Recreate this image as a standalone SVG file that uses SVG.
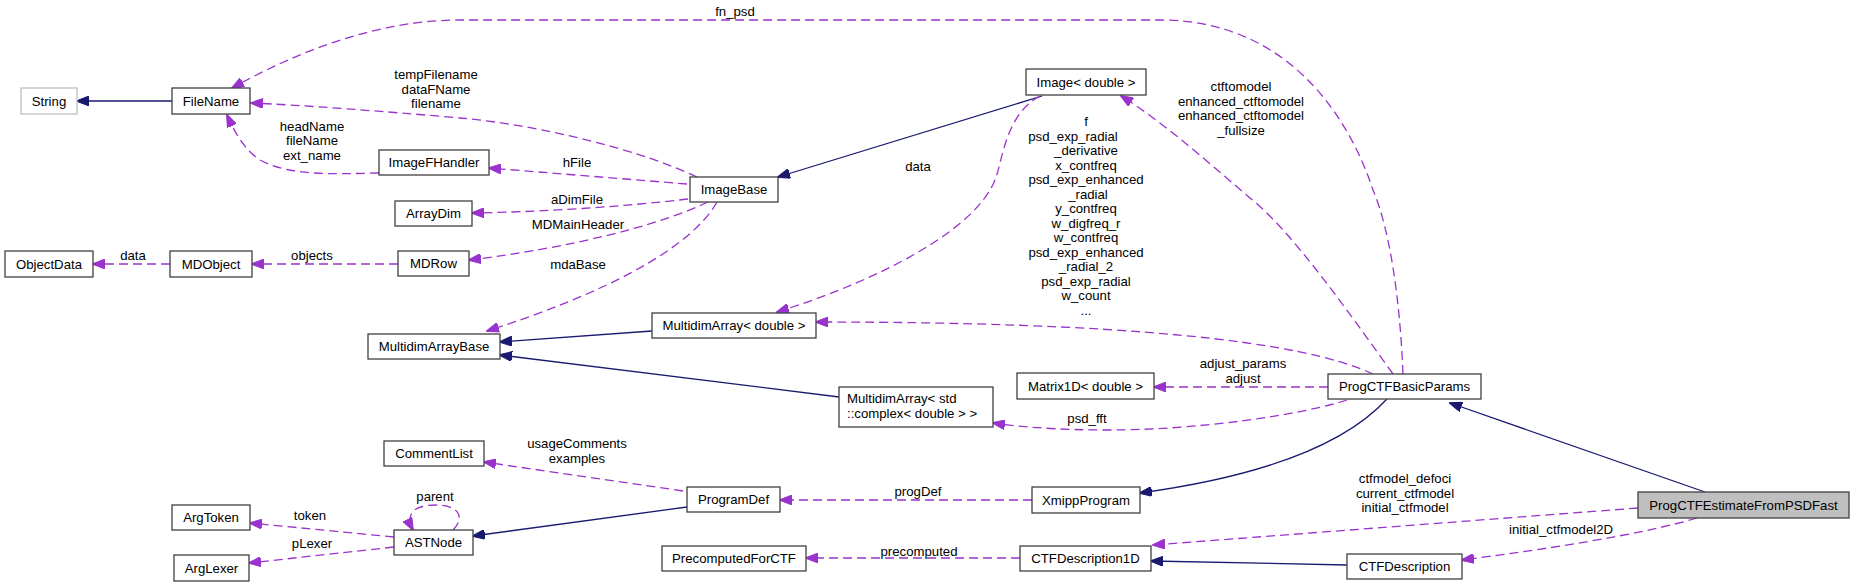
<svg xmlns="http://www.w3.org/2000/svg" width="1855" height="587" viewBox="0 0 1855 587">
<style>
text{font-family:"Liberation Sans",Arial,sans-serif;font-size:13.2px;fill:#000}
.n rect{fill:#fff;stroke:#404040;stroke-width:1.3}
.n text{text-anchor:middle}
.l text{text-anchor:middle}
.u{fill:none;stroke:#9a32cd;stroke-width:1.3;stroke-dasharray:9,5;marker-end:url(#pu)}
.b{fill:none;stroke:#191970;stroke-width:1.3;marker-end:url(#pb)}
</style>
<defs>
<marker id="pu" markerUnits="userSpaceOnUse" markerWidth="13" markerHeight="10" viewBox="0 0 13 10" refX="12" refY="5" orient="auto"><path d="M0,0 L13,5 L0,10 z" fill="#9a32cd" stroke="#9a32cd" stroke-width="1"/></marker>
<marker id="pb" markerUnits="userSpaceOnUse" markerWidth="13" markerHeight="10" viewBox="0 0 13 10" refX="12" refY="5" orient="auto"><path d="M0,0 L13,5 L0,10 z" fill="#191970" stroke="#191970" stroke-width="1"/></marker>
</defs>
<rect width="1855" height="587" fill="#fff"/>
<g id="edges">
<path class="b" d="M172,101 L77,101"/>
<path class="u" d="M1403,374 C1400,300 1390,230 1373,190 C1350,120 1290,20 1160,20 L460,20 C380,20 300,50 232,88"/>
<path class="u" d="M697,177 C640,150 540,125 460,118 C380,111 300,105 251,103"/>
<path class="u" d="M379,173 C330,174 290,176 260,160 C245,150 236,135 227,115"/>
<path class="u" d="M687,184 L489,168"/>
<path class="u" d="M688,199 C620,207 540,212 472,213"/>
<path class="u" d="M708,202 C660,225 570,248 469,260"/>
<path class="u" d="M717,202 C690,250 600,295 487,331"/>
<path class="b" d="M1042,96 L778,177"/>
<path class="u" d="M1040,96 C1005,115 1003,160 995,180 C975,230 880,280 777,312"/>
<path class="b" d="M652,331 L500,342"/>
<path class="b" d="M839,397 L500,355"/>
<path class="u" d="M1373,374 C1300,340 1120,322 816,322"/>
<path class="u" d="M1393,374 C1340,300 1290,230 1250,198 C1200,155 1160,120 1121,96"/>
<path class="u" d="M1328,387 L1154,387"/>
<path class="u" d="M1347,400 C1300,415 1200,430 1107,430 C1060,430 1020,427 993,423"/>
<path class="b" d="M1387,399 C1340,450 1250,478 1140,493"/>
<path class="u" d="M1032,500 L780,500"/>
<path class="u" d="M683,491 L484,462"/>
<path class="b" d="M687,507 L473,536"/>
<path class="u" d="M453,530 C465,518 460,505 435,505 C413,505 405,515 413,530"/>
<path class="u" d="M394,537 L250,523"/>
<path class="u" d="M394,547 L249,563"/>
<path class="u" d="M398,264 L252,264"/>
<path class="u" d="M170,264 L93,264"/>
<path class="u" d="M1020,558 L806,558"/>
<path class="b" d="M1347,565 L1151,561"/>
<path class="u" d="M1638,508 L1153,545"/>
<path class="u" d="M1697,518 C1640,535 1540,550 1462,560"/>
<path class="b" d="M1705,492 L1450,403"/>
</g>
<g id="edge-labels" class="l">
<text x="735" y="16">fn_psd</text>
<text x="436" y="79">tempFilename</text>
<text x="436" y="94">dataFName</text>
<text x="436" y="108">filename</text>
<text x="312" y="131">headName</text>
<text x="312" y="145">fileName</text>
<text x="312" y="160">ext_name</text>
<text x="577" y="167">hFile</text>
<text x="577" y="204">aDimFile</text>
<text x="578" y="229">MDMainHeader</text>
<text x="578" y="269">mdaBase</text>
<text x="918" y="171">data</text>
<text x="1086" y="126">f</text>
<text x="1073" y="140.5">psd_exp_radial</text>
<text x="1086" y="155">_derivative</text>
<text x="1086" y="169.5">x_contfreq</text>
<text x="1086" y="184">psd_exp_enhanced</text>
<text x="1088" y="198.5">_radial</text>
<text x="1086" y="213">y_contfreq</text>
<text x="1086" y="227.5">w_digfreq_r</text>
<text x="1086" y="242">w_contfreq</text>
<text x="1086" y="256.5">psd_exp_enhanced</text>
<text x="1086" y="271">_radial_2</text>
<text x="1086" y="285.5">psd_exp_radial</text>
<text x="1086" y="300">w_count</text>
<text x="1086" y="314.5">...</text>
<text x="1241" y="91">ctftomodel</text>
<text x="1241" y="105.5">enhanced_ctftomodel</text>
<text x="1241" y="120">enhanced_ctftomodel</text>
<text x="1241" y="134.5">_fullsize</text>
<text x="1243" y="368">adjust_params</text>
<text x="1243" y="382.5">adjust</text>
<text x="1087" y="423">psd_fft</text>
<text x="918" y="496">progDef</text>
<text x="577" y="448">usageComments</text>
<text x="577" y="463">examples</text>
<text x="435" y="501">parent</text>
<text x="310" y="520">token</text>
<text x="312" y="548">pLexer</text>
<text x="312" y="260">objects</text>
<text x="133" y="260">data</text>
<text x="919" y="556">precomputed</text>
<text x="1405" y="483">ctfmodel_defoci</text>
<text x="1405" y="497.5">current_ctfmodel</text>
<text x="1405" y="512">initial_ctfmodel</text>
<text x="1561" y="534">initial_ctfmodel2D</text>
</g>
<g id="String" class="n"><rect x="21" y="88" width="56" height="26" style="stroke:#bfbfbf"/><text x="49" y="105.5">String</text></g>
<g id="FileName" class="n"><rect x="172" y="88" width="78" height="26"/><text x="211" y="105.5">FileName</text></g>
<g id="ImageFHandler" class="n"><rect x="379" y="150" width="110" height="25"/><text x="434" y="167">ImageFHandler</text></g>
<g id="ArrayDim" class="n"><rect x="395" y="201" width="77" height="25"/><text x="433.5" y="218">ArrayDim</text></g>
<g id="ObjectData" class="n"><rect x="5" y="251" width="88" height="26"/><text x="49" y="268.5">ObjectData</text></g>
<g id="MDObject" class="n"><rect x="170" y="251" width="82" height="26"/><text x="211" y="268.5">MDObject</text></g>
<g id="MDRow" class="n"><rect x="398" y="251" width="71" height="25"/><text x="433.5" y="268">MDRow</text></g>
<g id="MultidimArrayBase" class="n"><rect x="368" y="334" width="132" height="25"/><text x="434" y="351">MultidimArrayBase</text></g>
<g id="CommentList" class="n"><rect x="384" y="441" width="100" height="25"/><text x="434" y="458">CommentList</text></g>
<g id="ArgToken" class="n"><rect x="172" y="505" width="78" height="25"/><text x="211" y="522">ArgToken</text></g>
<g id="ArgLexer" class="n"><rect x="174" y="555" width="75" height="26"/><text x="211.5" y="572.5">ArgLexer</text></g>
<g id="ASTNode" class="n"><rect x="394" y="530" width="79" height="25"/><text x="433.5" y="547">ASTNode</text></g>
<g id="ImageBase" class="n"><rect x="690" y="177" width="88" height="25"/><text x="734" y="194">ImageBase</text></g>
<g id="MultidimArrayDouble" class="n"><rect x="652" y="313" width="164" height="25"/><text x="734" y="330">MultidimArray&lt; double &gt;</text></g>
<g id="MultidimArrayComplex" class="n"><rect x="839" y="387" width="154" height="40"/><text x="847" y="403" style="text-anchor:start">MultidimArray&lt; std</text><text x="847" y="417.5" style="text-anchor:start">::complex&lt; double &gt; &gt;</text></g>
<g id="ProgramDef" class="n"><rect x="687" y="487" width="93" height="25"/><text x="733.5" y="504">ProgramDef</text></g>
<g id="PrecomputedForCTF" class="n"><rect x="662" y="546" width="144" height="25"/><text x="734" y="563">PrecomputedForCTF</text></g>
<g id="ImageDouble" class="n"><rect x="1026" y="69" width="120" height="26"/><text x="1086" y="86.5">Image&lt; double &gt;</text></g>
<g id="Matrix1DDouble" class="n"><rect x="1017" y="373" width="137" height="26"/><text x="1085.5" y="390.5">Matrix1D&lt; double &gt;</text></g>
<g id="XmippProgram" class="n"><rect x="1032" y="487" width="108" height="26"/><text x="1086" y="504.5">XmippProgram</text></g>
<g id="CTFDescription1D" class="n"><rect x="1020" y="546" width="131" height="25"/><text x="1085.5" y="563">CTFDescription1D</text></g>
<g id="ProgCTFBasicParams" class="n"><rect x="1328" y="374" width="153" height="25"/><text x="1404.5" y="391">ProgCTFBasicParams</text></g>
<g id="CTFDescription" class="n"><rect x="1347" y="554" width="115" height="25"/><text x="1404.5" y="571">CTFDescription</text></g>
<g id="ProgCTFEstimateFromPSDFast" class="n"><rect x="1638" y="492" width="211" height="26" style="fill:#bfbfbf"/><text x="1743.5" y="509.5">ProgCTFEstimateFromPSDFast</text></g>
</svg>
